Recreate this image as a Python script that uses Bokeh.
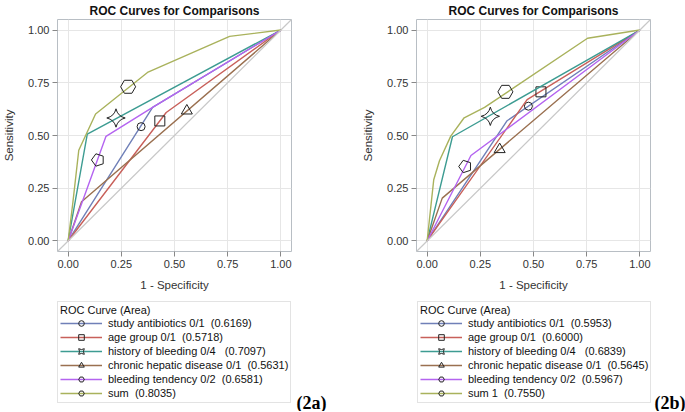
from bokeh.plotting import figure
from bokeh.models import (Legend, LegendItem, FixedTicker, NumeralTickFormatter,
                          Slope, Label, Range1d)
from bokeh.layouts import row, column
from bokeh.embed import file_html
from bokeh.resources import INLINE

# ---------------- data ----------------
colors = ["#7080B8", "#C8605A", "#3D9C92", "#9A7050", "#B464F0", "#A9B25C"]
markers = ["circle", "square", "square_pin", "triangle", "pentagon", "hex"]
legend_markers = ["circle", "square", "square_pin", "triangle", "hex", "hex"]
marker_sizes = [8, 10, 13, 11, 13, 15]
legend_marker_sizes = [7, 9, 12, 10, 10, 13]
ticks = [0, 0.25, 0.5, 0.75, 1.0]
legend_title = "ROC Curve (Area)"

# panel (2a)
a_labels = ["study antibiotics 0/1  (0.6169)", "age group 0/1  (0.5718)",
            "history of bleeding 0/4   (0.7097)", "chronic hepatic disease 0/1  (0.5631)",
            "bleeding tendency 0/2  (0.6581)", "sum  (0.8035)"]
a_study_x = [0, 0.397, 1]; a_study_y = [0, 0.633, 1]
a_age_x = [0, 0.461, 1]; a_age_y = [0, 0.609, 1]
a_hist_x = [0, 0.09, 1]; a_hist_y = [0, 0.507, 1]
a_chron_x = [0, 0.063, 1]; a_chron_y = [0, 0.186, 1]
a_tend_x = [0, 0.178, 0.397, 1]; a_tend_y = [0, 0.496, 0.633, 1]
a_sum_x = [0, 0.022, 0.05, 0.129, 0.373, 0.759, 1]
a_sum_y = [0, 0.18, 0.43, 0.602, 0.799, 0.970, 1]
a_mark_x = [0.343, 0.431, 0.225, 0.558, 0.14, 0.282]
a_mark_y = [0.542, 0.569, 0.583, 0.617, 0.384, 0.731]

# panel (2b)
b_labels = ["study antibiotics 0/1  (0.5953)", "age group 0/1  (0.6000)",
            "history of bleeding 0/4   (0.6839)", "chronic hepatic disease 0/1  (0.5645)",
            "bleeding tendency 0/2  (0.5967)", "sum 1  (0.7550)"]
b_study_x = [0, 0.376, 1]; b_study_y = [0, 0.570, 1]
b_age_x = [0, 0.47, 1]; b_age_y = [0, 0.67, 1]
b_hist_x = [0, 0.119, 1]; b_hist_y = [0, 0.494, 1]
b_chron_x = [0, 0.071, 1]; b_chron_y = [0, 0.203, 1]
b_tend_x = [0, 0.206, 1]; b_tend_y = [0, 0.405, 1]
b_sum_x = [0, 0.016, 0.031, 0.058, 0.111, 0.174, 0.27, 0.754, 1]
b_sum_y = [0, 0.15, 0.29, 0.38, 0.497, 0.584, 0.633, 0.961, 1]
b_mark_x = [0.476, 0.535, 0.297, 0.341, 0.179, 0.368]
b_mark_y = [0.639, 0.707, 0.591, 0.434, 0.353, 0.707]

FONT = "Liberation Sans"
BOTTOM_H = 110


def make_panel(curves, mark_x, mark_y, labels, tag, border_left, border_right, tag_x):
    W = border_left + 234 + border_right
    p = figure(frame_width=234, frame_height=232,
               min_border_left=border_left,
               min_border_right=border_right, min_border_top=17, min_border_bottom=50,
               x_range=Range1d(-0.05, 1.05), y_range=Range1d(-0.05, 1.05),
               output_backend="svg", toolbar_location=None,
               title="ROC Curves for Comparisons")
    p.title.text_font = FONT
    p.title.text_font_size = "12px"
    p.title.text_font_style = "bold"
    p.title.text_color = "#111111"
    p.title.align = "center"
    p.title.standoff = 3
    p.outline_line_color = "#B8BEC4"
    p.background_fill_color = "white"
    for ax in (p.xaxis[0], p.yaxis[0]):
        ax.ticker = FixedTicker(ticks=ticks)
        ax.formatter = NumeralTickFormatter(format="0.00")
        ax.axis_line_color = None
        ax.major_tick_line_color = "#888888"
        ax.major_tick_out = 5
        ax.major_tick_in = 0
        ax.minor_tick_line_color = None
        ax.major_label_text_font = FONT
        ax.major_label_text_font_size = "11px"
        ax.major_label_text_color = "#333333"
        ax.axis_label_text_font = FONT
        ax.axis_label_text_font_size = "11.5px"
        ax.axis_label_text_font_style = "normal"
        ax.axis_label_text_color = "#333333"
        ax.major_label_standoff = 3
        ax.axis_label_standoff = 8
    p.xaxis.axis_label = "1 - Specificity"
    p.yaxis.axis_label = "Sensitivity"
    p.yaxis.axis_label_standoff = 10
    p.grid.grid_line_color = "#E6E6E6"
    p.grid.ticker = FixedTicker(ticks=ticks)

    p.add_layout(Slope(gradient=1, y_intercept=0, line_color="#C8C8C8", line_width=1.2))

    # legend figure (below the chart); its ranges keep the series out of view
    q = figure(width=W, height=BOTTOM_H, min_border=0,
               x_range=Range1d(10, 11), y_range=Range1d(10, 11),
               x_axis_location=None, y_axis_location=None,
               output_backend="svg", toolbar_location=None)
    q.grid.visible = False
    q.outline_line_color = None
    has_fa = "frame_align" in q.properties()
    if has_fa:
        q.frame_align = False
        off = border_left
    else:
        off = 0

    items = []
    for i, (cx, cy) in enumerate(curves):
        p.line(cx, cy, line_color=colors[i], line_width=1.4)
        if markers[i] == "pentagon":
            p.ngon(x=[mark_x[i]], y=[mark_y[i]], radius=6.5, radius_units="screen",
                   n=5, angle=1.5708, fill_color=None, line_color="#222222", line_width=1)
        else:
            ang = 0.7854 if markers[i] == "square_pin" else 0
            p.scatter([mark_x[i]], [mark_y[i]], marker=markers[i], size=marker_sizes[i],
                      angle=ang, fill_color=None, line_color="#222222", line_width=1)
        lr = q.line(cx, cy, line_color=colors[i], line_width=1.4)
        lang = 0.7854 if legend_markers[i] == "square_pin" else 0
        mr = q.scatter([mark_x[i]], [mark_y[i]], marker=legend_markers[i],
                       size=legend_marker_sizes[i], angle=lang, fill_color=None,
                       line_color="#222222", line_width=1)
        items.append(LegendItem(label=labels[i], renderers=[lr, mr]))

    legend = Legend(items=items, title=legend_title, location=(off + 1, 8),
                    orientation="vertical", padding=2, margin=0, spacing=0,
                    glyph_width=42, glyph_height=14, label_height=14, label_width=180,
                    label_standoff=6, title_standoff=0,
                    border_line_color="#C8C8C8", border_line_width=1,
                    background_fill_color="white")
    legend.label_text_font = FONT
    legend.label_text_font_size = "11px"
    legend.label_text_color = "#111111"
    legend.title_text_font = FONT
    legend.title_text_font_size = "11px"
    legend.title_text_font_style = "normal"
    legend.title_text_color = "#111111"
    q.add_layout(legend, "center")

    q.add_layout(Label(x=tag_x, y=9, x_units="screen", y_units="screen", text=tag,
                       text_font="Liberation Serif", text_font_style="bold",
                       text_font_size="18px", text_baseline="middle", text_color="#000000"))
    return column(p, q, spacing=0)


pa = make_panel([(a_study_x, a_study_y), (a_age_x, a_age_y), (a_hist_x, a_hist_y),
                 (a_chron_x, a_chron_y), (a_tend_x, a_tend_y), (a_sum_x, a_sum_y)],
                a_mark_x, a_mark_y, a_labels, "(2a)", 56, 50, 296)
pb = make_panel([(b_study_x, b_study_y), (b_age_x, b_age_y), (b_hist_x, b_hist_y),
                 (b_chron_x, b_chron_y), (b_tend_x, b_tend_y), (b_sum_x, b_sum_y)],
                b_mark_x, b_mark_y, b_labels, "(2b)", 75, 36, 313)

layout = row(pa, pb)
open("out.html", "w").write(file_html(layout, INLINE))
